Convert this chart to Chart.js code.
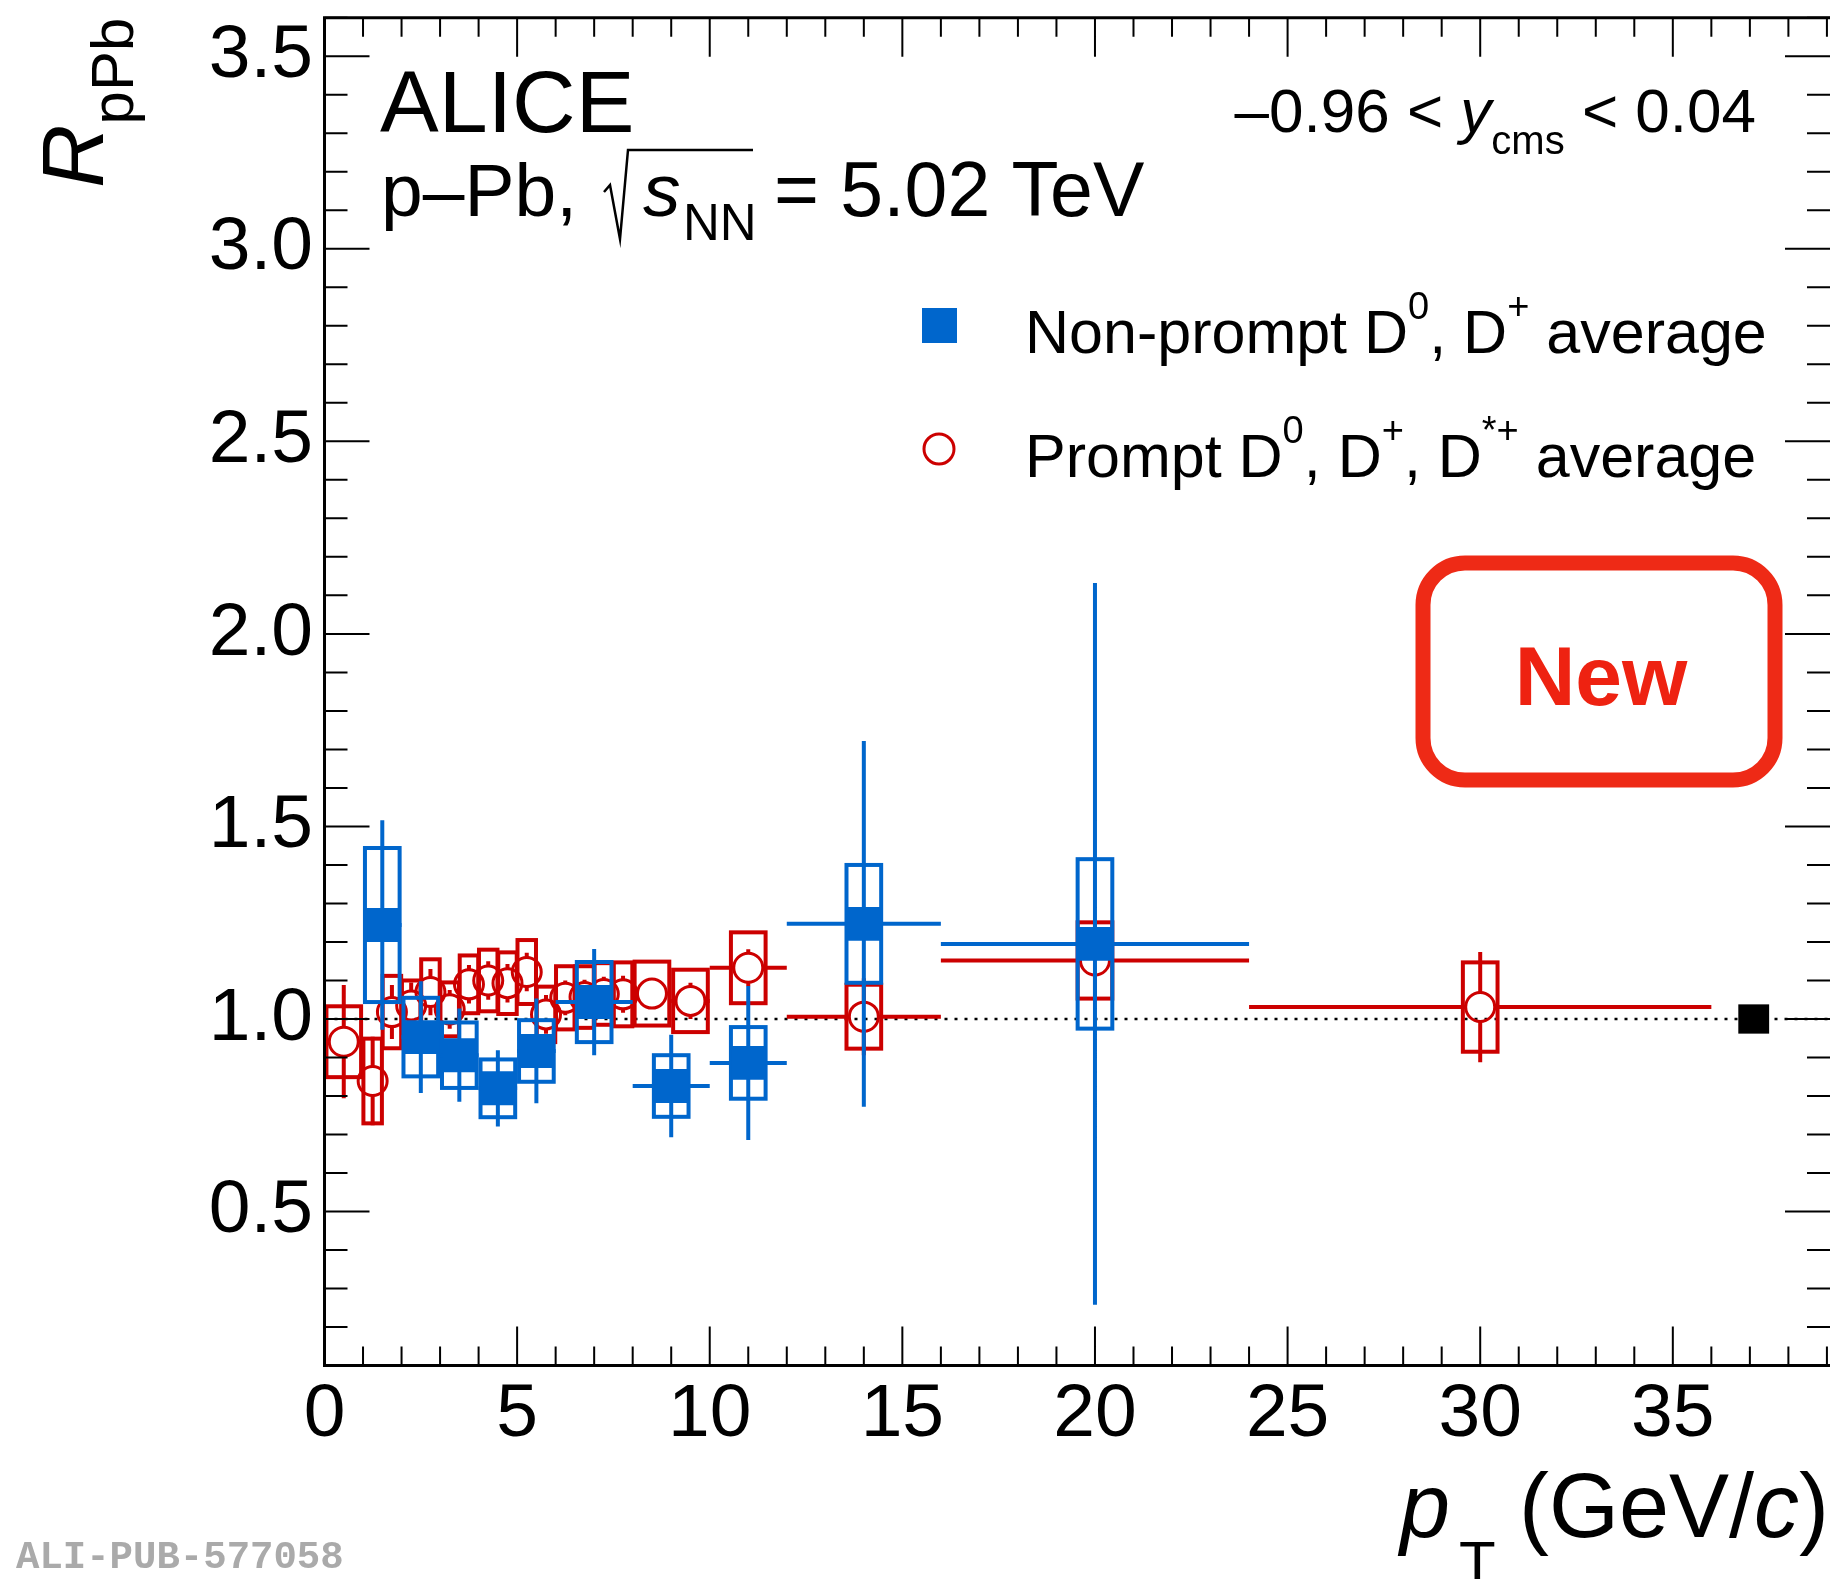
<!DOCTYPE html>
<html>
<head>
<meta charset="utf-8">
<script src="https://cdn.jsdelivr.net/npm/chart.js@4.4.1/dist/chart.umd.min.js"></script>
<style>
  html, body { margin: 0; padding: 0; background: #fff; overflow: hidden; }
  canvas { display: block; }
</style>
</head>
<body>
<canvas id="rpPbChart" width="1830" height="1579"></canvas>
<script>
const FONT = '"Liberation Sans", Arial, Helvetica, sans-serif';
const BLUE = '#0066cc';
const RED = '#cc0000';

// Non-prompt D0, D+ average
const npPt     = [1.5, 2.5, 3.5, 4.5, 5.5, 7, 9, 11, 14, 20];
const npPtLow  = [1, 2, 3, 4, 5, 6, 8, 10, 12, 16];
const npPtHigh = [2, 3, 4, 5, 6, 8, 10, 12, 16, 24];
const npRpPb   = [1.244, 0.953, 0.906, 0.820, 0.917, 1.044, 0.826, 0.886, 1.247, 1.195];
const npStat   = [0.272, 0.145, 0.121, 0.099, 0.136, 0.138, 0.133, 0.200, 0.475, 0.937];
const npSyst   = [0.200, 0.102, 0.085, 0.075, 0.080, 0.104, 0.080, 0.093, 0.153, 0.220];

// Prompt D0, D+, D*+ average
const pPt     = [0.5, 1.25, 1.75, 2.25, 2.75, 3.25, 3.75, 4.25, 4.75, 5.25, 5.75, 6.25, 6.75, 7.25, 7.75, 8.5, 9.5, 11, 14, 20, 30];
const pPtLow  = [0, 1, 1.5, 2, 2.5, 3, 3.5, 4, 4.5, 5, 5.5, 6, 6.5, 7, 7.5, 8, 9, 10, 12, 16, 24];
const pPtHigh = [1, 1.5, 2, 2.5, 3, 3.5, 4, 4.5, 5, 5.5, 6, 6.5, 7, 7.5, 8, 9, 10, 12, 16, 24, 36];
const pRpPb   = [0.941, 0.839, 1.018, 1.035, 1.070, 1.025, 1.090, 1.100, 1.093, 1.122, 1.012, 1.055, 1.057, 1.065, 1.064, 1.066, 1.047, 1.133, 1.006, 1.152, 1.031];
const pStat   = [0.147, 0.115, 0.070, 0.060, 0.060, 0.050, 0.050, 0.050, 0.050, 0.050, 0.050, 0.045, 0.045, 0.045, 0.048, 0.040, 0.047, 0.048, 0.100, 0.100, 0.143];
const pSyst   = [0.092, 0.110, 0.094, 0.065, 0.085, 0.070, 0.075, 0.080, 0.080, 0.083, 0.072, 0.082, 0.080, 0.080, 0.083, 0.083, 0.081, 0.092, 0.083, 0.099, 0.116];

// normalisation uncertainty box at unity
const normPt  = [36.7, 37.5];
const normUnc = 0.038;

// axis ticks
const xTickValues = [0, 5, 10, 15, 20, 25, 30, 35];
const xTickLabels = ['0', '5', '10', '15', '20', '25', '30', '35'];
const yTickValues = [0.5, 1.0, 1.5, 2.0, 2.5, 3.0, 3.5];
const yTickLabels = ['0.5', '1.0', '1.5', '2.0', '2.5', '3.0', '3.5'];

function font(size, style) {
    return (style || '') + ' ' + size + 'px ' + FONT;
}

// draw a run of text pieces: [text, size, style, dy]
function richText(ctx, x, y, parts, align) {
    let w = 0;
    parts.forEach(p => { ctx.font = font(p[1], p[2]); w += ctx.measureText(p[0]).width; });
    let cx = align === 'right' ? x - w : x;
    parts.forEach(p => {
        ctx.font = font(p[1], p[2]);
        ctx.fillText(p[0], cx, y + (p[3] || 0));
        cx += ctx.measureText(p[0]).width;
    });
}

function boxHalf(lo, hi) {
    return Math.min(0.45, 0.48 * (hi - lo));
}

function drawSyst(chart, pt, lo, hi, val, syst, color) {
    const { ctx, scales: { x, y } } = chart;
    ctx.save();
    ctx.strokeStyle = color;
    ctx.lineWidth = 4;
    pt.forEach((p, i) => {
        const h = boxHalf(lo[i], hi[i]);
        const x0 = x.getPixelForValue(p - h), x1 = x.getPixelForValue(p + h);
        const y0 = y.getPixelForValue(val[i] + syst[i]), y1 = y.getPixelForValue(val[i] - syst[i]);
        ctx.strokeRect(x0, y0, x1 - x0, y1 - y0);
    });
    ctx.restore();
}

function drawStat(chart, pt, lo, hi, val, stat, color, gap) {
    const { ctx, scales: { x, y } } = chart;
    ctx.save();
    ctx.strokeStyle = color;
    ctx.lineWidth = 4;
    ctx.beginPath();
    pt.forEach((p, i) => {
        const xc = x.getPixelForValue(p), yc = y.getPixelForValue(val[i]);
        const yt = y.getPixelForValue(val[i] + stat[i]), yb = y.getPixelForValue(val[i] - stat[i]);
        const xl = x.getPixelForValue(lo[i]), xr = x.getPixelForValue(hi[i]);
        if (yt < yc - gap) { ctx.moveTo(xc, yt); ctx.lineTo(xc, yc - gap); }
        if (yb > yc + gap) { ctx.moveTo(xc, yc + gap); ctx.lineTo(xc, yb); }
        if (xl < xc - gap) { ctx.moveTo(xl, yc); ctx.lineTo(xc - gap, yc); }
        if (xr > xc + gap) { ctx.moveTo(xc + gap, yc); ctx.lineTo(xr, yc); }
    });
    ctx.stroke();
    ctx.restore();
}

function noPadding(s) {
    s.paddingLeft = 0;
    s.paddingRight = 0;
    s.paddingTop = 0;
    s.paddingBottom = 0;
}

const rootStyle = {
    id: 'rootStyle',
    beforeDatasetsDraw(chart) {
        const { ctx, chartArea: a, scales: { x, y } } = chart;
        // dotted line at unity
        ctx.save();
        ctx.strokeStyle = '#000';
        ctx.lineWidth = 2.5;
        ctx.setLineDash([3, 7]);
        ctx.beginPath();
        ctx.moveTo(a.left, y.getPixelForValue(1));
        ctx.lineTo(a.right, y.getPixelForValue(1));
        ctx.stroke();
        ctx.restore();
        // normalisation box
        const x0 = x.getPixelForValue(normPt[0]), x1 = x.getPixelForValue(normPt[1]);
        const y0 = y.getPixelForValue(1 + normUnc), y1 = y.getPixelForValue(1 - normUnc);
        ctx.fillStyle = '#000';
        ctx.fillRect(x0, y0, x1 - x0, y1 - y0);
    },
    beforeDatasetDraw(chart, args) {
        if (args.index === 1) {
            drawSyst(chart, pPt, pPtLow, pPtHigh, pRpPb, pSyst, RED);
            drawStat(chart, pPt, pPtLow, pPtHigh, pRpPb, pStat, RED, 15);
        } else if (args.index === 0) {
            drawSyst(chart, npPt, npPtLow, npPtHigh, npRpPb, npSyst, BLUE);
            drawStat(chart, npPt, npPtLow, npPtHigh, npRpPb, npStat, BLUE, 16);
        }
    },
    afterDraw(chart) {
        const { ctx, chartArea: a, scales: { x, y } } = chart;
        ctx.save();
        // frame (right side falls at the page edge)
        ctx.strokeStyle = '#000';
        ctx.lineWidth = 3;
        ctx.beginPath();
        ctx.moveTo(a.right + 5, a.top);
        ctx.lineTo(a.left, a.top);
        ctx.lineTo(a.left, a.bottom);
        ctx.lineTo(a.right + 5, a.bottom);
        ctx.stroke();
        // ticks, pointing inwards on all four sides
        ctx.lineWidth = 2;
        ctx.beginPath();
        for (let k = 1; k <= 39; k++) {
            const px = x.getPixelForValue(k);
            if (px > a.right) break;
            const len = k % 5 === 0 ? 39 : 19;
            ctx.moveTo(px, a.bottom); ctx.lineTo(px, a.bottom - len);
            ctx.moveTo(px, a.top); ctx.lineTo(px, a.top + len);
        }
        for (let k = 1; k <= 36; k++) {
            const py = y.getPixelForValue(k / 10);
            const len = k % 5 === 0 ? 45 : 23;
            ctx.moveTo(a.left, py); ctx.lineTo(a.left + len, py);
            ctx.moveTo(a.right, py); ctx.lineTo(a.right - len, py);
        }
        ctx.stroke();

        ctx.fillStyle = '#000';
        ctx.textBaseline = 'alphabetic';
        ctx.textAlign = 'left';

        // axis titles
        ctx.save();
        ctx.translate(103, 188);
        ctx.rotate(-Math.PI / 2);
        richText(ctx, 0, 0, [['R', 88, 'italic'], ['pPb', 60, '', 30]]);
        ctx.restore();

        richText(ctx, 1400, 1537, [['p', 90, 'italic']]);
        richText(ctx, 1459, 1583, [['T', 60]]);
        richText(ctx, 1519, 1537, [['(GeV/', 90], ['c', 90, 'italic'], [')', 90]]);

        // header text
        richText(ctx, 380, 132, [['ALICE', 88]]);
        richText(ctx, 381, 216, [['p\u2013Pb,', 75]]);
        ctx.lineWidth = 2.5;
        ctx.beginPath();
        ctx.moveTo(604, 192); ctx.lineTo(610, 185); ctx.lineTo(620, 239);
        ctx.lineTo(628, 150); ctx.lineTo(753, 150);
        ctx.stroke();
        richText(ctx, 643, 216, [['s', 75, 'italic']]);
        richText(ctx, 683, 240, [['NN', 51]]);
        richText(ctx, 774, 216, [['= 5.02 TeV', 77]]);

        richText(ctx, 1756, 132, [['\u20130.96 < ', 62], ['y', 62, 'italic'], ['cms', 40, '', 22], [' < 0.04', 62]], 'right');

        // legend
        ctx.fillStyle = BLUE;
        ctx.fillRect(922, 308, 35, 35);
        ctx.strokeStyle = RED;
        ctx.lineWidth = 3;
        ctx.beginPath();
        ctx.arc(939, 449, 15, 0, Math.PI * 2);
        ctx.stroke();
        ctx.fillStyle = '#000';
        richText(ctx, 1025, 353, [['Non-prompt D', 61], ['0', 38, '', -34], [', D', 61], ['+', 38, '', -34], [' average', 61]]);
        richText(ctx, 1025, 477, [['Prompt D', 61], ['0', 38, '', -34], [', D', 61], ['+', 38, '', -34], [', D', 61], ['*+', 38, '', -34], [' average', 61]]);

        // "New" stamp
        ctx.strokeStyle = '#ee2a16';
        ctx.lineWidth = 15;
        ctx.beginPath();
        ctx.roundRect(1423, 563, 352, 217, 42);
        ctx.stroke();
        ctx.fillStyle = '#ee2211';
        ctx.textAlign = 'center';
        ctx.font = font(84, 'bold');
        ctx.fillText('New', 1601, 705);

        // publication id
        ctx.textAlign = 'left';
        ctx.fillStyle = '#aaaaaa';
        ctx.font = 'bold 39px "Liberation Mono", "Courier New", monospace';
        ctx.fillText('ALI-PUB-577058', 16, 1568);
        ctx.restore();
    }
};

new Chart(document.getElementById('rpPbChart'), {
    type: 'scatter',
    data: {
        datasets: [{
            label: 'Non-prompt D0, D+ average',
            data: npPt.map((p, i) => ({ x: p, y: npRpPb[i] })),
            pointStyle: 'rect',
            pointRadius: 24,
            backgroundColor: BLUE,
            borderWidth: 0
        }, {
            label: 'Prompt D0, D+, D*+ average',
            data: pPt.map((p, i) => ({ x: p, y: pRpPb[i] })),
            pointStyle: 'circle',
            pointRadius: 14.5,
            borderWidth: 3,
            borderColor: RED,
            backgroundColor: 'rgba(0,0,0,0)'
        }]
    },
    options: {
        responsive: false,
        animation: false,
        devicePixelRatio: 1,
        layout: { autoPadding: false, padding: { top: 17.7, left: 0, right: 0, bottom: 0 } },
        plugins: { legend: { display: false }, tooltip: { enabled: false } },
        scales: {
            x: {
                type: 'linear',
                min: 0,
                max: 39.08,
                grid: { display: false, drawTicks: false },
                border: { display: false },
                afterBuildTicks: s => { s.ticks = xTickValues.map(v => ({ value: v })); },
                afterFit: s => { s.height = 1579 - 1365.6; noPadding(s); },
                ticks: {
                    autoSkip: false,
                    maxRotation: 0,
                    padding: 5,
                    color: '#000',
                    font: { family: FONT, size: 75 },
                    callback: (v, i) => xTickLabels[i]
                }
            },
            y: {
                type: 'linear',
                min: 0.1,
                max: 3.6,
                grid: { display: false, drawTicks: false },
                border: { display: false },
                afterBuildTicks: s => { s.ticks = yTickValues.map(v => ({ value: v })); },
                afterFit: s => { s.width = 324.5; noPadding(s); },
                ticks: {
                    autoSkip: false,
                    padding: 11.5,
                    color: '#000',
                    font: { family: FONT, size: 75 },
                    callback: (v, i) => yTickLabels[i]
                }
            }
        }
    },
    plugins: [rootStyle]
});
</script>
</body>
</html>
